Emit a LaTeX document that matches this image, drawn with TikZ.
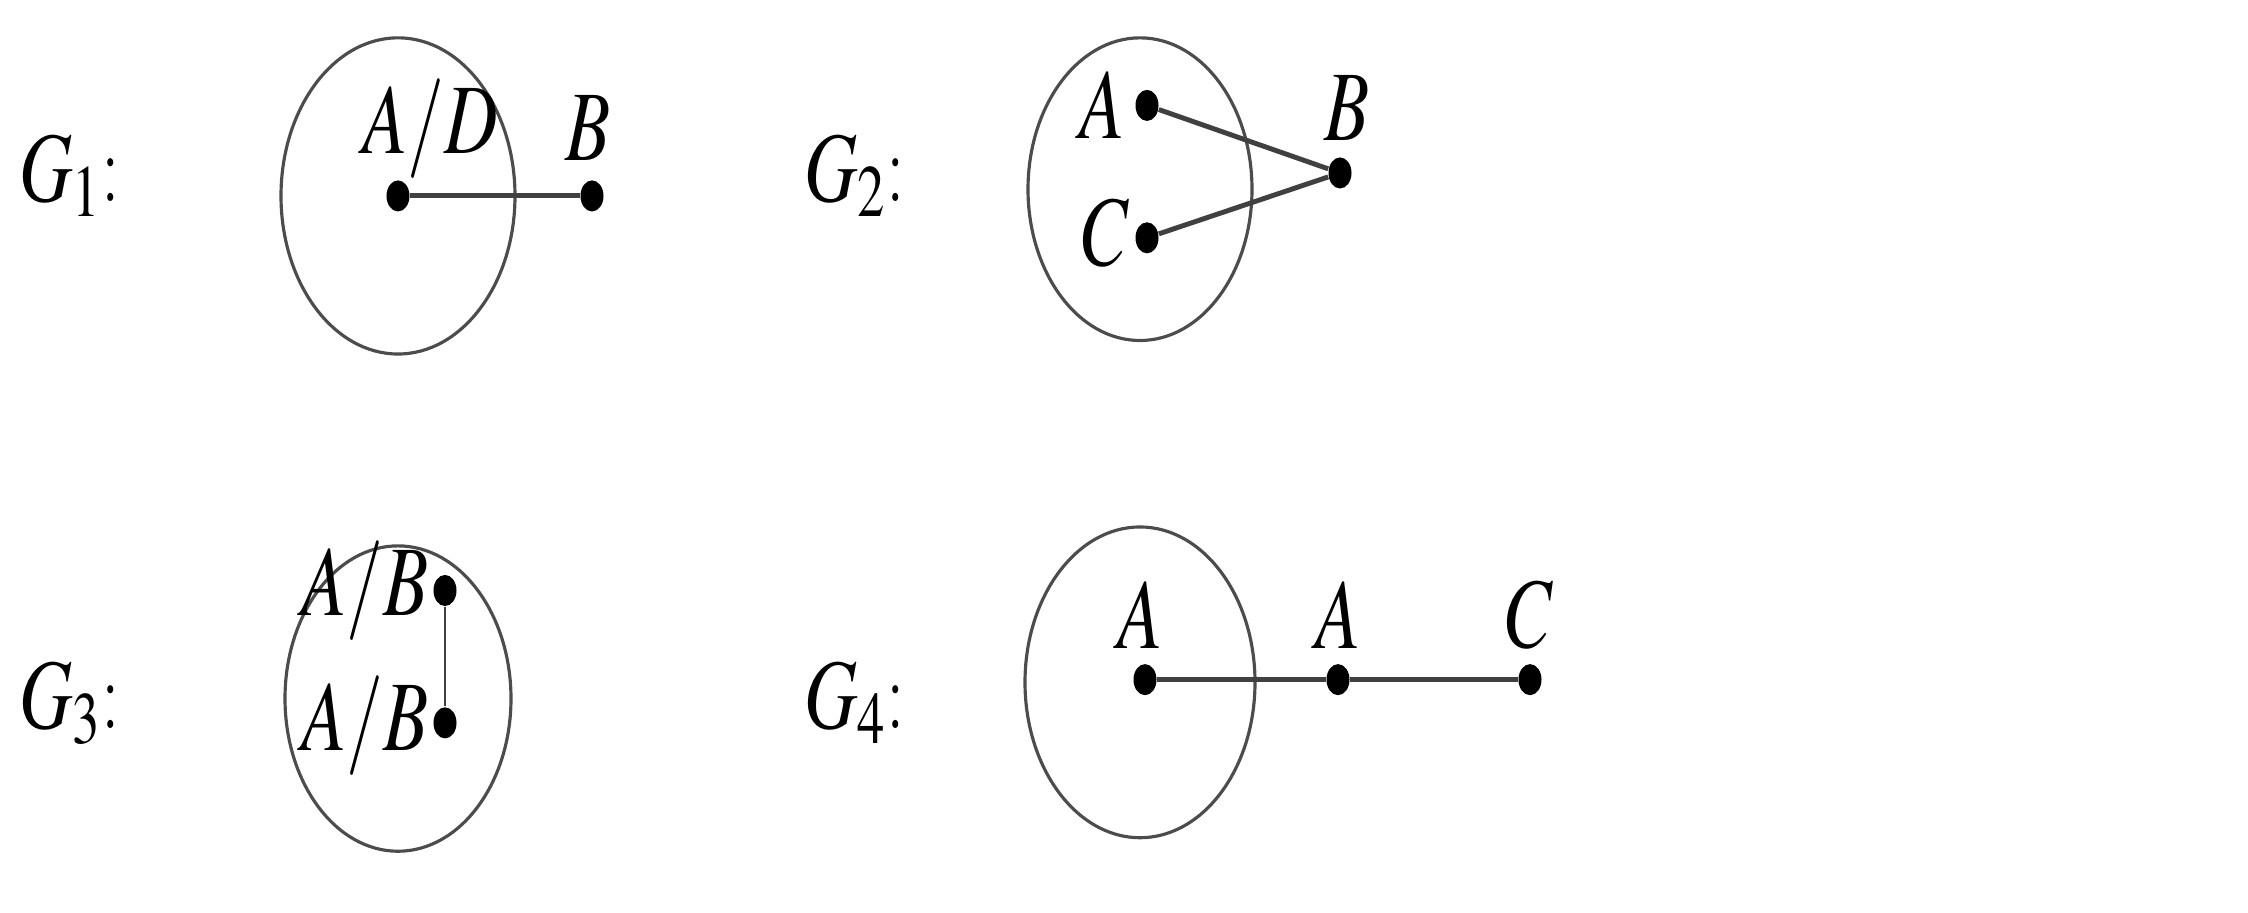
\documentclass[tikz,border=0pt]{standalone}
\usepackage{mathptmx}
\begin{document}
\begin{tikzpicture}[x=0.01cm,y=-0.01351cm,
  dot/.style={circle,fill=black,inner sep=0pt,minimum size=0.23cm,yscale=1.35},
  ring/.style={draw=black!70,line width=0.9pt},
  edge/.style={draw=black!75,line width=1.4pt},
  lbl/.style={font=\fontsize{21}{25}\selectfont,yscale=1.35}]
\useasboundingbox (0,0) rectangle (2248,675);
% G1
\node[lbl] (g1) at (70,130) {$G_1$:};
\draw[ring] (398,145) ellipse (117 and 117);
\node[dot] (a1) at (398,145) {};
\node[dot] (b1) at (592,145) {};
\node[lbl] (la1) at (430,95) {$A/D$};
\node[lbl] (lb1) at (588,95) {$B$};
\draw[edge] (a1) -- (b1);
% G2
\node[lbl] (g2) at (855,130) {$G_2$:};
\draw[ring] (1140,140) ellipse (112 and 112);
\node[dot] (a2) at (1147,78) {};
\node[dot] (cc2) at (1147,176) {};
\node[dot] (b2) at (1340,128) {};
\node[lbl] (la2) at (1102,78) {$A$};
\node[lbl] (lc2) at (1106,172) {$C$};
\node[lbl] (lb2) at (1347,80) {$B$};
\draw[edge] (a2) -- (b2) -- (cc2);
% G3
\node[lbl] (g3) at (70,520) {$G_3$:};
\draw[ring] (398,517) ellipse (113 and 113);
\node[dot] (a3) at (445,437) {};
\node[dot] (b3) at (445,535) {};
\node[lbl] (la3) at (365,437) {$A/B$};
\node[lbl] (lb3) at (365,537) {$A/B$};
\draw[edge,line width=0.7pt] (a3) -- (b3);
% G4
\node[lbl] (g4) at (855,520) {$G_4$:};
\draw[ring] (1140,505) ellipse (115 and 115);
\node[dot] (a4) at (1145,503) {};
\node[dot] (b4) at (1338,503) {};
\node[dot] (cc4) at (1530,503) {};
\node[lbl] (la4) at (1140,455) {$A$};
\node[lbl] (lb4) at (1338,455) {$A$};
\node[lbl] (lc4) at (1530,455) {$C$};
\draw[edge] (a4) -- (b4) -- (cc4);
\end{tikzpicture}
\end{document}
